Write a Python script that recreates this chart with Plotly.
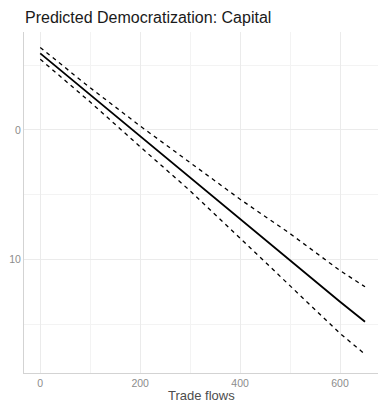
import plotly.graph_objects as go

# Predicted values with confidence bounds along trade flows
trade_flows = [0, 100, 200, 300, 400, 500, 600, 650]
predicted = [-5.9, -2.7, 0.5, 3.65, 6.85, 10.05, 13.25, 14.8]
bound_low = [-6.35, -3.25, -0.3, 2.55, 5.35, 8.0, 10.85, 12.1]
bound_high = [-5.45, -2.15, 1.3, 4.7, 8.35, 12.0, 15.7, 17.3]

x_ticks = [0, 200, 400, 600]
y_ticks = [0, 10]

fig = go.Figure()
for ys in (bound_low, bound_high):
    fig.add_trace(go.Scatter(x=trade_flows, y=ys, mode="lines",
                             line=dict(color="black", width=1.3, dash="4px,4px"),
                             showlegend=False, hoverinfo="skip"))
fig.add_trace(go.Scatter(x=trade_flows, y=predicted, mode="lines",
                         line=dict(color="black", width=1.8),
                         showlegend=False))

grid = "#ebebeb"
fig.update_layout(
    width=378, height=404,
    margin=dict(l=24, r=0, t=32, b=31),
    paper_bgcolor="white", plot_bgcolor="white",
    font=dict(family="Liberation Sans, Arial, sans-serif"),
    title=dict(text="Predicted Democratization: Capital",
               x=25 / 378, xref="container", xanchor="left",
               y=1 - 17 / 404, yref="container", yanchor="middle",
               font=dict(size=16, color="#1a1a1a")),
    xaxis=dict(range=[-32.5, 676], tickvals=x_ticks,
               ticktext=[str(v) for v in x_ticks],
               showgrid=True, gridcolor=grid, gridwidth=1,
               minor=dict(dtick=100, tick0=0, showgrid=True,
                          gridcolor="#f3f3f3", gridwidth=1),
               zeroline=False, showline=True, linecolor="#d3d3d3",
               linewidth=1, ticks="", ticklen=0,
               tickfont=dict(size=10.5, color="#8c8c8c")),
    yaxis=dict(range=[18.75, -7.55], tickvals=y_ticks,
               ticktext=[str(v) for v in y_ticks],
               showgrid=True, gridcolor=grid, gridwidth=1,
               minor=dict(dtick=5, tick0=0, showgrid=True,
                          gridcolor="#f3f3f3", gridwidth=1),
               zeroline=False, showline=True, linecolor="#d3d3d3",
               linewidth=1, ticks="", ticklen=0,
               tickfont=dict(size=10.5, color="#8c8c8c")),
    annotations=[dict(text="Trade flows", xref="paper", yref="paper",
                      x=0.5, y=-22 / 341, xanchor="center", yanchor="middle",
                      showarrow=False,
                      font=dict(size=13, color="#4d4d4d"))],
)

fig.write_html("out.html")
